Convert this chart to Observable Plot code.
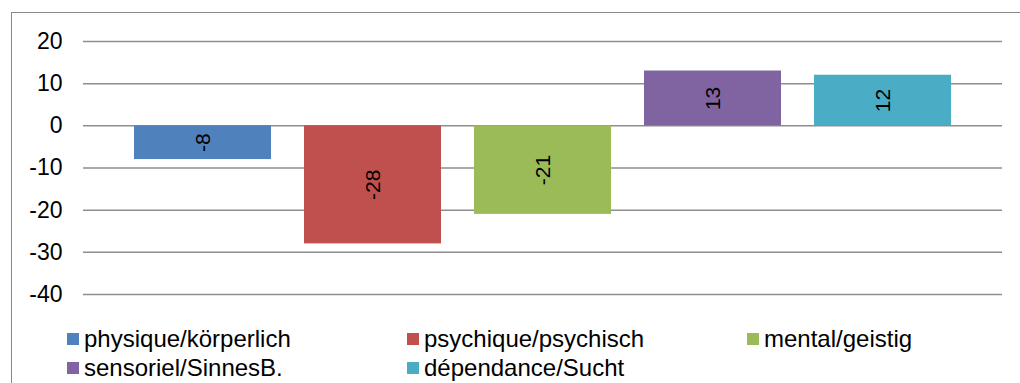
<!DOCTYPE html>
<html>
<head>
<meta charset="utf-8">
<script src="https://cdn.jsdelivr.net/npm/d3@7"></script>
<script src="https://cdn.jsdelivr.net/npm/@observablehq/plot@0.6"></script>
<style>
  html, body { margin: 0; padding: 0; background: #fff; }
  #wrap { position: relative; width: 1020px; height: 383px; overflow: hidden; font-family: "Liberation Sans", Arial, sans-serif; }
  #frame { position: absolute; left: 11px; top: 12px; width: 1100px; height: 500px; border: 1.5px solid #8a8a8a; box-sizing: border-box; }
  #chart { position: absolute; left: 0; top: 0; }
  .leg { position: absolute; font-size: 24px; color: #000; white-space: nowrap; line-height: 22px; height: 22px; }
  .sw { position: absolute; width: 12px; height: 12px; }
</style>
</head>
<body>
<div id="wrap">
  <div id="frame"></div>
  <div id="chart"></div>
</div>
<script>
const categories = ["physique/körperlich", "psychique/psychisch", "mental/geistig", "sensoriel/SinnesB.", "dépendance/Sucht"];
const values = [-8, -28, -21, 13, 12];
const colors = ["#4F81BD", "#C0504D", "#9BBB59", "#8064A2", "#4BACC6"];
const yTicks = [-40, -30, -20, -10, 0, 10, 20];

const data = categories.map((c, i) => ({category: c, value: values[i]}));

const chart = Plot.plot({
  width: 1020,
  height: 310,
  marginTop: 41,
  marginBottom: 16,
  marginLeft: 83,
  marginRight: 18,
  style: {fontFamily: "'Liberation Sans', Arial, sans-serif", background: "transparent", overflow: "visible"},
  x: {domain: categories, range: [117.5, 967.5], paddingInner: 0.194, paddingOuter: 0.097, axis: null},
  y: {domain: [-40, 20], ticks: yTicks, label: null},
  color: {domain: categories, range: colors},
  marks: [
    Plot.ruleY(yTicks, {stroke: "#8e8e8e", strokeWidth: 1.5}),
    Plot.barY(data, {x: "category", y: "value", fill: "category"}),
    Plot.text(data, {x: "category", y: d => d.value / 2, text: d => String(d.value), rotate: -90, fontSize: 21, fill: "#000"}),
    Plot.axisY(yTicks, {tickSize: 0, tickPadding: 21, fontSize: 23, fill: "#000", label: null, tickFormat: d => String(d)})
  ]
});
document.getElementById("chart").appendChild(chart);

// legend
const wrap = document.getElementById("wrap");
const legCols = [67, 407, 747];
const legRows = [339, 368];
categories.forEach((c, i) => {
  const col = i % 3, row = Math.floor(i / 3);
  const sw = document.createElement("div");
  sw.className = "sw";
  sw.style.background = colors[i];
  sw.style.left = legCols[col] + "px";
  sw.style.top = (legRows[row] - 6) + "px";
  wrap.appendChild(sw);
  const t = document.createElement("div");
  t.className = "leg";
  t.textContent = c;
  t.style.left = (legCols[col] + 17) + "px";
  t.style.top = (legRows[row] - 11) + "px";
  wrap.appendChild(t);
});
</script>
</body>
</html>
